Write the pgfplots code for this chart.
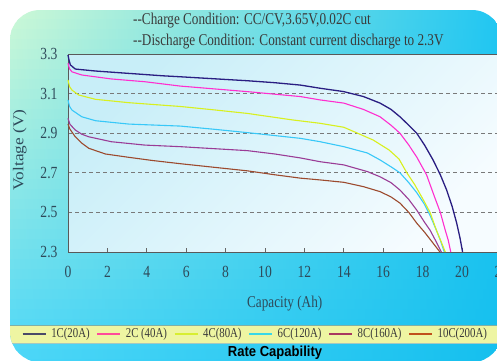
\documentclass[border=0pt]{standalone}
\usepackage{pgfplots}
\pgfplotsset{compat=1.18}
\usepackage{fontspec}
\setmainfont{Liberation Serif}[FakeStretch=0.8]
\newfontfamily\plainserif{Liberation Serif}
\newfontfamily\sansbold{Liberation Sans}[FakeStretch=0.9]
\definecolor{bgTL}{HTML}{CCF8D6}
\definecolor{bgTR}{HTML}{20C6F2}
\definecolor{bgBL}{HTML}{4AD6F8}
\definecolor{bgBR}{HTML}{14BFEE}
\definecolor{plotTL}{HTML}{C8EEF8}
\definecolor{plotBR}{HTML}{F6FCFF}
\definecolor{bandcol}{HTML}{EEF5A2}
\definecolor{bandline}{HTML}{7FB0A6}
\definecolor{tickcol}{HTML}{2E4A5A}
\definecolor{titlecol}{HTML}{3A3A3A}
\definecolor{cA}{HTML}{2A1E82}
\definecolor{cB}{HTML}{FF2ECF}
\definecolor{cC}{HTML}{D8F01E}
\definecolor{cD}{HTML}{38C8F8}
\definecolor{cE}{HTML}{9A3C96}
\definecolor{cF}{HTML}{9C4A2E}
\definecolor{lA}{HTML}{4A4A68}
\definecolor{lB}{HTML}{FF4A9A}
\definecolor{lC}{HTML}{D8EE30}
\definecolor{lD}{HTML}{38D8E8}
\definecolor{lE}{HTML}{A83860}
\definecolor{lF}{HTML}{C0501A}
\begin{document}
\begin{tikzpicture}[x=1pt,y=1pt]
\useasboundingbox (0,0) rectangle (497,360);
\clip (0,0) rectangle (497,360);
\begin{scope}
\clip[rounded corners=30pt] (10,-2) rectangle (502,350);
\foreach \i in {0,...,35} {
  \pgfmathsetmacro{\p}{100*\i/35}
  \colorlet{cl}{bgBL!\p!bgTL}
  \colorlet{cr}{bgBR!\p!bgTR}
  \pgfmathsetmacro{\ytop}{350-10*\i+0.6}
  \pgfmathsetmacro{\ybot}{350-10*(\i+1)}
  \shade[left color=cl, right color=cr] (10,\ybot) rectangle (502,\ytop);
}
\fill[bandcol] (10,17) rectangle (502,35);
\draw[bandline, line width=0.9pt] (10,35) -- (502,35);
\draw[bandline!70, line width=0.5pt] (10,17) -- (502,17);
\end{scope}
\node[anchor=west, text=titlecol, font=\fontsize{16.5}{18}\selectfont, inner sep=0pt] at (133,339) {-{}-Charge Condition: CC/CV,3.65V,0.02C cut};
\node[anchor=west, text=titlecol, font=\fontsize{16.5}{18}\selectfont, inner sep=0pt] at (133,318) {-{}-Discharge Condition: Constant current discharge to 2.3V};
\node[text=black, font=\sansbold\bfseries\fontsize{14.5}{16}\selectfont, inner sep=0pt] at (275,7) {Rate Capability};
\begin{axis}[
  at={(68pt,108pt)}, anchor=south west,
  scale only axis, width=433.4pt, height=198pt,
  xmin=0, xmax=22, ymin=2.3, ymax=3.3,
  xtick={0,2,4,6,8,10,12,14,16,18,20,22},
  ytick={2.3,2.5,2.7,2.9,3.1,3.3},
  yticklabels={2.3,2.5,2.7,2.9,3.1,3.3},
  xtick pos=bottom, tick align=inside,
  major tick length=4pt,
  xtick style={draw=gray!80!black, line width=0.8pt},
  ytick style={draw=none},
  /pgf/number format/assume math mode=true,
  ticklabel style={font=\fontsize{17}{19}\selectfont, text=tickcol},
  xticklabel style={yshift=-11pt},
  yticklabel style={xshift=-7pt},
  axis line style={draw=gray!70!black, line width=0.9pt},
  ymajorgrids,
  grid style={dash pattern=on 4pt off 3pt, draw=gray!95!black, line width=0.8pt},
  axis background/.style={top color=plotTL, bottom color=plotBR, shading angle=45},
  xlabel={Capacity (Ah)},
  xlabel style={at={(axis description cs:0.5,-0.258)}, anchor=center, font=\fontsize{16.5}{18}\selectfont, text=tickcol},
  ylabel={\plainserif\fontsize{15}{17}\selectfont\scalebox{1.15}[1]{Voltage (V)}},
  ylabel style={at={(axis description cs:-0.111,0.515)}, anchor=center, text=tickcol},
  legend columns=6,
  legend style={at={(axis description cs:-0.106,-0.414)}, anchor=west, draw=none, fill=none,
    font=\fontsize{13.5}{15}\selectfont, text=titlecol, inner sep=0pt, outer sep=0pt,
    nodes={inner sep=0pt},
    /tikz/every odd column/.append style={column sep=5pt},
    /tikz/every even column/.append style={column sep=7pt}},
  legend image code/.code={\draw[#1, line width=1.2pt] (0pt,0pt) -- (23pt,0pt);},
  clip=false,
]
\addlegendimage{lA}\addlegendentry{1C(20A)}
\addlegendimage{lB}\addlegendentry{2C (40A)}
\addlegendimage{lC}\addlegendentry{4C(80A)}
\addlegendimage{lD}\addlegendentry{6C(120A)}
\addlegendimage{lE}\addlegendentry{8C(160A)}
\addlegendimage{lF}\addlegendentry{10C(200A)}
\addplot[cF, line width=1.1pt, forget plot] coordinates {
(0,2.946)(0.1,2.92)(0.37,2.882)(0.7,2.85)(1.05,2.824)(1.9,2.795)(3.1,2.778)(4.3,2.762)(5.7,2.746)(7.4,2.728)(9.1,2.71)(10.5,2.69)(11.8,2.673)(12.8,2.664)(14.0,2.652)(15.0,2.63)(15.84,2.605)(16.4,2.578)(16.85,2.547)(17.3,2.50)(17.7,2.446)(18.1,2.40)(18.53,2.345)(18.88,2.30)};
\addplot[cE, line width=1.1pt, forget plot] coordinates {
(0,2.975)(0.1,2.945)(0.37,2.916)(0.7,2.895)(1.05,2.882)(2.2,2.857)(3.9,2.84)(5.7,2.832)(7.4,2.822)(9.1,2.812)(10.5,2.795)(11.8,2.775)(12.8,2.756)(14.0,2.74)(15.2,2.706)(15.84,2.68)(16.4,2.65)(16.85,2.613)(17.3,2.565)(17.7,2.512)(18.1,2.45)(18.38,2.41)(18.7,2.35)(18.95,2.30)};
\addplot[cD, line width=1.1pt, forget plot] coordinates {
(0,3.068)(0.08,3.035)(0.2,3.017)(0.7,2.983)(1.4,2.963)(3.1,2.946)(5.7,2.936)(7.4,2.92)(9.1,2.903)(10.5,2.888)(11.8,2.874)(12.8,2.857)(14.0,2.832)(15.2,2.80)(15.84,2.765)(16.4,2.73)(16.85,2.70)(17.3,2.65)(17.7,2.60)(18.1,2.54)(18.4,2.48)(18.7,2.41)(18.9,2.36)(19.1,2.30)};
\addplot[cC, line width=1.1pt, forget plot] coordinates {
(0,3.169)(0.08,3.135)(0.2,3.118)(0.54,3.093)(1.4,3.071)(3.1,3.054)(5.7,3.035)(7.4,3.018)(9.1,3.0)(11.4,2.967)(12.8,2.95)(14.0,2.93)(14.7,2.90)(15.5,2.865)(16.3,2.815)(16.8,2.77)(17.2,2.70)(17.6,2.64)(18.0,2.57)(18.38,2.50)(18.7,2.41)(18.95,2.35)(19.15,2.30)};
\addplot[cB, line width=1.1pt, forget plot] coordinates {
(0,3.253)(0.08,3.225)(0.2,3.21)(0.7,3.194)(2.2,3.174)(3.9,3.16)(5.7,3.138)(7.4,3.124)(9.1,3.11)(11.8,3.085)(12.8,3.068)(14.0,3.052)(15.0,3.02)(15.84,2.983)(16.4,2.94)(16.85,2.90)(17.3,2.84)(17.7,2.78)(18.2,2.69)(18.6,2.58)(18.9,2.50)(19.15,2.41)(19.3,2.36)(19.43,2.30)};
\addplot[cA, line width=1.3pt, forget plot] coordinates {
(0,3.295)(0.05,3.27)(0.12,3.245)(0.37,3.224)(1.4,3.214)(3.1,3.202)(4.8,3.19)(5.7,3.185)(7.4,3.175)(9.1,3.165)(10.5,3.155)(11.8,3.143)(12.8,3.127)(14.0,3.11)(15.0,3.085)(15.84,3.052)(16.4,3.02)(16.85,2.983)(17.3,2.94)(17.7,2.90)(18.1,2.84)(18.53,2.765)(18.9,2.69)(19.22,2.613)(19.5,2.53)(19.73,2.446)(19.9,2.37)(20.03,2.30)};
\end{axis}
\end{tikzpicture}
\end{document}
